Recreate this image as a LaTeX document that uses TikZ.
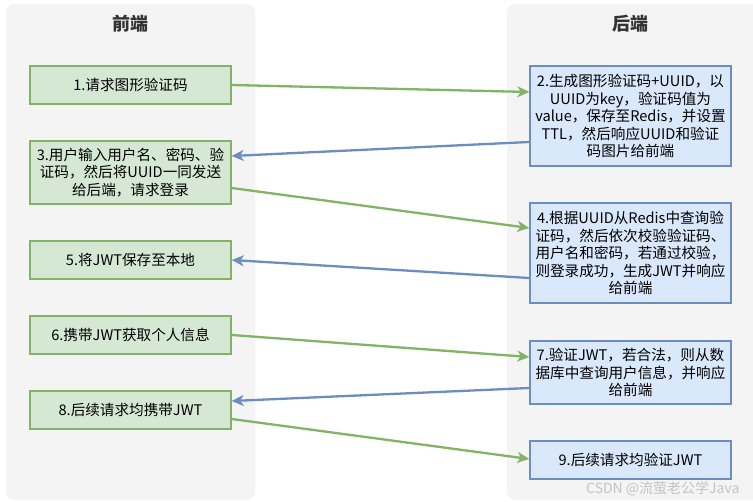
\documentclass[tikz,border=0pt]{standalone}
\usepackage{fontspec}
\setmainfont{Noto Sans CJK SC}
\usetikzlibrary{arrows.meta,calc}
\definecolor{lanebg}{HTML}{F4F4F4}
\definecolor{gfill}{HTML}{D5E8D4}
\definecolor{gline}{HTML}{82B366}
\definecolor{bfill}{HTML}{DAE8FC}
\definecolor{bline}{HTML}{6C8EBF}
\definecolor{titlec}{HTML}{333333}
\definecolor{wmark}{HTML}{C4C4C4}
\tikzset{
  lane/.style={fill=lanebg, draw=none, rounded corners=8pt},
  lanetitle/.style={font=\fontsize{18}{21}\selectfont\bfseries, text=titlec},
  fbox/.style={draw=gline, fill=gfill, line width=1.4pt, minimum width=201pt, align=center, inner sep=2pt, font=\fontsize{14.6}{17.5}\selectfont, text=black},
  bbox/.style={draw=bline, fill=bfill, line width=1.4pt, minimum width=201pt, align=center, inner sep=2pt, font=\fontsize{14.6}{17.5}\selectfont, text=black},
  req/.style={draw=gline, line width=2.3pt, -{Stealth[length=12pt,width=11pt,inset=3.5pt]}},
  resp/.style={draw=bline, line width=2.3pt, -{Stealth[length=12pt,width=11pt,inset=3.5pt]}},
}
\begin{document}
\begin{tikzpicture}[x=1pt,y=-1pt]
\clip (0,0) rectangle (753,502);
\fill[white] (0,0) rectangle (753,502);
\path[lane] (6,4) rectangle (255,500);
\path[lane] (507,4) rectangle (770,500);
\node[lanetitle] (t1) at (130.5,24) {前端};
\node[lanetitle] (t2) at (630.5,24) {后端};

\node[fbox, minimum height=38pt] (b1) at (130.5,85) {1.请求图形验证码};
\node[fbox, minimum height=63pt] (b3) at (130.5,172.5) {3.用户输入用户名、密码、验\\证码，然后将UUID一同发送\\给后端，请求登录};
\node[fbox, minimum height=38pt] (b5) at (130.5,260) {5.将JWT保存至本地};
\node[fbox, minimum height=38pt] (b6) at (130.5,335) {6.携带JWT获取个人信息};
\node[fbox, minimum height=38pt] (b8) at (130.5,410) {8.后续请求均携带JWT};

\node[bbox, minimum height=100pt] (b2) at (630.5,116) {2.生成图形验证码+UUID，以\\UUID为key，验证码值为\\value，保存至Redis，并设置\\TTL，然后响应UUID和验证\\码图片给前端};
\node[bbox, minimum height=100pt] (b4) at (630.5,253) {4.根据UUID从Redis中查询验\\证码，然后依次校验验证码、\\用户名和密码，若通过校验，\\则登录成功，生成JWT并响应\\给前端};
\node[bbox, minimum height=63pt] (b7) at (630.5,372.5) {7.验证JWT，若合法，则从数\\据库中查询用户信息，并响应\\给前端};
\node[bbox, minimum height=38pt] (b9) at (630.5,460) {9.后续请求均验证JWT};

\draw[req] (b1.east) -- ($(b2.west)+(0,-24)$);
\draw[resp] ($(b2.west)+(0,26)$) -- ($(b3.east)+(0,-16.5)$);
\draw[req] ($(b3.east)+(0,15.5)$) -- ($(b4.west)+(0,-25)$);
\draw[resp] ($(b4.west)+(0,25)$) -- (b5.east);
\draw[req] (b6.east) -- ($(b7.west)+(0,-15.5)$);
\draw[resp] ($(b7.west)+(0,15.5)$) -- ($(b8.east)+(0,-9)$);
\draw[req] ($(b8.east)+(0,9)$) -- ($(b9.west)+(0,-1)$);

\node[text=wmark, font=\fontsize{14}{16}\selectfont, anchor=east] (wm) at (743,489) {CSDN @流萤老公学Java};
\end{tikzpicture}
\end{document}
